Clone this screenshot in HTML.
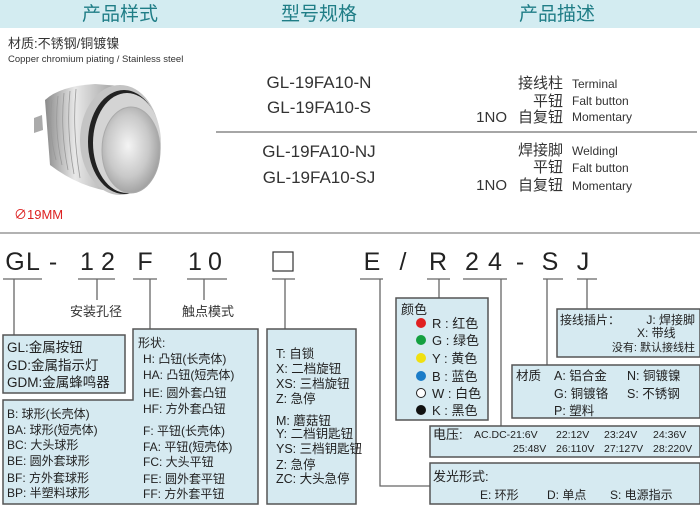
<!DOCTYPE html>
<html><head><meta charset="utf-8"><style>
html,body{margin:0;padding:0;background:#fff;}
svg{display:block;font-family:"Liberation Sans","Noto Sans CJK SC",sans-serif;}
</style></head><body>
<svg width="700" height="505" viewBox="0 0 700 505" xmlns="http://www.w3.org/2000/svg">
<defs>
<radialGradient id="face" cx="0.45" cy="0.45" r="0.6"><stop offset="0" stop-color="#f4f4f4"/><stop offset="0.6" stop-color="#c9c9c9"/><stop offset="1" stop-color="#9a9a9a"/></radialGradient>
<linearGradient id="body" x1="0" y1="0" x2="1" y2="0"><stop offset="0" stop-color="#8a8a8a"/><stop offset="0.4" stop-color="#e8e8e8"/><stop offset="1" stop-color="#9c9c9c"/></linearGradient>
</defs>
<rect x="0" y="0" width="700" height="28" fill="#d3ecf1"/>
<g font-size="19" fill="#1f7d86" text-anchor="middle">
<text x="120" y="20">产品样式</text><text x="319" y="20">型号规格</text><text x="557" y="20">产品描述</text>
</g>
<text x="8" y="48" font-size="13" fill="#333">材质:不锈钢/铜镀镍</text>
<text x="8" y="62" font-size="9.5" fill="#333">Copper chromium piating / Stainless  steel</text>
<!-- button -->
<path d="M34 118 L42 115 L43 130 L34 133 Z" fill="#aaa"/>
<path d="M45 100 Q60 86 95 84 L120 86 L115 192 Q80 188 50 165 Z" fill="url(#body)"/>
<g stroke="#999" stroke-width="0.8" fill="none">
<path d="M52 100 Q48 130 56 160"/><path d="M58 96 Q54 130 62 165"/><path d="M64 93 Q60 130 68 170"/><path d="M70 91 Q66 130 74 174"/><path d="M76 89 Q72 130 80 178"/>
</g>
<ellipse cx="120" cy="140" rx="40" ry="55" fill="#c4c4c4"/>
<ellipse cx="124" cy="142" rx="36" ry="52" fill="#222"/>
<ellipse cx="127" cy="143" rx="34" ry="50" fill="#d4d4d4"/>
<ellipse cx="131" cy="150" rx="29" ry="43" fill="url(#face)" stroke="#aaa"/>
<text x="14" y="219" font-size="13" fill="#d22">∅19MM</text>
<!-- models -->
<g font-size="17" fill="#333" text-anchor="middle">
<text x="319" y="88">GL-19FA10-N</text><text x="319" y="113">GL-19FA10-S</text>
<text x="319" y="157">GL-19FA10-NJ</text><text x="319" y="183">GL-19FA10-SJ</text>
</g>
<line x1="216" y1="132" x2="697" y2="132" stroke="#888" stroke-width="1.5"/>
<g font-size="15" fill="#333" text-anchor="end">
<text x="563" y="88">接线柱</text><text x="563" y="106">平钮</text><text x="563" y="122">自复钮</text>
<text x="563" y="155">焊接脚</text><text x="563" y="172">平钮</text><text x="563" y="190">自复钮</text>
<text x="507" y="122">1NO</text><text x="507" y="190">1NO</text>
</g>
<g font-size="12" fill="#333">
<text x="572" y="88">Terminal</text><text x="572" y="105">Falt button</text><text x="572" y="121">Momentary</text>
<text x="572" y="155">Weldingl</text><text x="572" y="172">Falt button</text><text x="572" y="190">Momentary</text>
</g>
<line x1="0" y1="233" x2="700" y2="233" stroke="#666" stroke-width="1"/>
<!-- code -->
<g font-size="25" fill="#222" text-anchor="middle">
<text x="15" y="270">G</text><text x="33" y="270">L</text><text x="53" y="270">-</text>
<text x="87" y="270">1</text><text x="108" y="270">2</text><text x="145" y="270">F</text>
<text x="195" y="270">1</text><text x="215" y="270">0</text>
<text x="372" y="270">E</text><text x="403" y="270">/</text><text x="438" y="270">R</text>
<text x="472" y="270">2</text><text x="495" y="270">4</text><text x="520" y="270">-</text>
<text x="550" y="270">S</text><text x="583" y="270">J</text>
</g>
<rect x="273" y="252" width="20" height="19" fill="none" stroke="#333" stroke-width="1.2"/>
<g stroke="#666" stroke-width="1.3" fill="none">
<path d="M3 279H42M78 279H115M133 279H157M187 279H227M272 279H295M360 279H383M427 279H450M463 279H507M543 279H563M577 279H597"/>
<path d="M14 279V335M97 279V300M204 279V300M150 279V329M285 279V329M380 279V486H430M439 279V298M501 279V426M547 279V365M587 279V309"/>
</g>
<g font-size="13" fill="#333"><text x="70" y="316">安装孔径</text><text x="182" y="316">触点模式</text></g>
<g fill="#d6eaf1" stroke="#555" stroke-width="1.5">
<rect x="3" y="335" width="122" height="58"/>
<path d="M133 329H258V504H3V400H133Z"/>
<rect x="267" y="329" width="89" height="175"/>
<rect x="396" y="298" width="92" height="122"/>
<rect x="557" y="309" width="143" height="48"/>
<rect x="512" y="365" width="188" height="53"/>
<rect x="430" y="426" width="270" height="31"/>
<rect x="430" y="463" width="270" height="41"/>
</g>
<g font-size="13.5" fill="#222">
<text x="7" y="352">GL:金属按钮</text><text x="7" y="370">GD:金属指示灯</text><text x="7" y="387">GDM:金属蜂鸣器</text>
</g>
<g font-size="12" fill="#222">
<text x="138" y="347">形状:</text>
<text x="143" y="363">H: 凸钮(长壳体)</text><text x="143" y="379">HA: 凸钮(短壳体)</text>
<text x="143" y="397">HE: 圆外套凸钮</text><text x="143" y="413">HF: 方外套凸钮</text>
<text x="143" y="435">F: 平钮(长壳体)</text><text x="143" y="451">FA: 平钮(短壳体)</text>
<text x="143" y="466">FC: 大头平钮</text><text x="143" y="483">FE: 圆外套平钮</text><text x="143" y="498">FF: 方外套平钮</text>
<text x="7" y="418">B: 球形(长壳体)</text><text x="7" y="434">BA: 球形(短壳体)</text>
<text x="7" y="449">BC: 大头球形</text><text x="7" y="465">BE: 圆外套球形</text>
<text x="7" y="482">BF: 方外套球形</text><text x="7" y="497">BP: 半塑料球形</text>
</g>
<g font-size="12.5" fill="#222">
<text x="276" y="358">T: 自锁</text><text x="276" y="373">X: 二档旋钮</text><text x="276" y="388">XS: 三档旋钮</text>
<text x="276" y="403">Z: 急停</text><text x="276" y="425">M: 蘑菇钮</text><text x="276" y="438">Y: 二档钥匙钮</text>
<text x="276" y="453">YS: 三档钥匙钮</text><text x="276" y="469">Z: 急停</text><text x="276" y="483">ZC: 大头急停</text>
</g>
<g font-size="13" fill="#222">
<text x="401" y="314">颜色</text>
<text x="432" y="328">R : 红色</text><text x="432" y="345">G : 绿色</text><text x="432" y="363">Y : 黄色</text>
<text x="432" y="381">B : 蓝色</text><text x="432" y="398">W : 白色</text><text x="432" y="415">K : 黑色</text>
</g>
<circle cx="421" cy="323" r="5" fill="#e02020"/><circle cx="421" cy="340" r="5" fill="#14a040"/>
<circle cx="421" cy="358" r="5" fill="#f0e010"/><circle cx="421" cy="376" r="5" fill="#1a7cc8"/>
<circle cx="421" cy="393" r="4.5" fill="#fff" stroke="#222"/><circle cx="421" cy="410" r="5" fill="#111"/>
<g font-size="12" fill="#222">
<text x="560" y="324">接线插片：</text>
<text x="695" y="324" text-anchor="end">J: 焊接脚</text>
<text x="637" y="337">X: 带线</text>
<text x="695" y="351" text-anchor="end" font-size="11">没有: 默认接线柱</text>
</g>
<g font-size="12.5" fill="#222">
<text x="516" y="380">材质</text>
<text x="554" y="380">A: 铝合金</text><text x="627" y="380">N: 铜镀镍</text>
<text x="554" y="398">G: 铜镀铬</text><text x="627" y="398">S: 不锈钢</text>
<text x="554" y="415">P: 塑料</text>
</g>
<g font-size="13" fill="#222"><text x="433" y="439">电压:</text><text x="433" y="481">发光形式:</text></g>
<g font-size="10.5" fill="#222">
<text x="474" y="438">AC.DC-21:6V</text><text x="556" y="438">22:12V</text><text x="604" y="438">23:24V</text><text x="653" y="438">24:36V</text>
<text x="513" y="452">25:48V</text><text x="556" y="452">26:110V</text><text x="604" y="452">27:127V</text><text x="653" y="452">28:220V</text>
</g>
<g font-size="12" fill="#222">
<text x="480" y="499">E: 环形</text><text x="547" y="499">D: 单点</text><text x="610" y="499">S: 电源指示</text>
</g>
</svg>
</body></html>
